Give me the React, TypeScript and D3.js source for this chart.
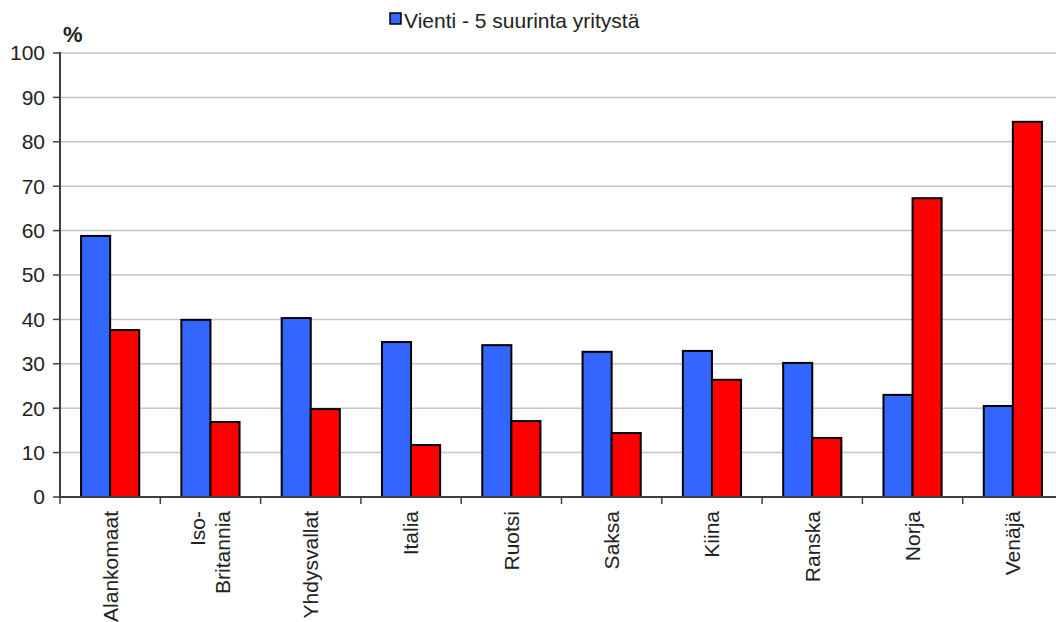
import React from "react";
import * as d3 from "d3";

const categories = ["Alankomaat", "Iso-|Britannia", "Yhdysvallat", "Italia", "Ruotsi", "Saksa", "Kiina", "Ranska", "Norja", "Venäjä"];
const seriesNames = ["Vienti - 5 suurinta yritystä", "Tuonti"];
const blueValues = [58.8, 39.9, 40.3, 34.9, 34.2, 32.7, 32.9, 30.2, 23.0, 20.5];
const redValues = [37.6, 16.9, 19.8, 11.7, 17.1, 14.4, 26.4, 13.3, 67.3, 84.5];
const yTicks = [0, 10, 20, 30, 40, 50, 60, 70, 80, 90, 100];
const colors = ["#3366ff", "#ff0000"];

const W = 1056;
const H = 622;
const FONT = "'Liberation Sans', Arial, sans-serif";

export default function App() {
  const x = d3.scaleBand<string>().domain(categories).range([60, 1063]).paddingInner(0).paddingOuter(0);
  const bw = x.bandwidth();
  const xs = d3.scaleBand<number>().domain([0, 1]).range([bw * 0.21, bw * 0.79]).padding(0);
  const y = d3.scaleLinear().domain([0, 100]).range([497, 53]);
  const series = [blueValues, redValues];

  return (
    <svg width={W} height={H} style={{ position: "absolute", left: 0, top: 0, background: "#fff" }} fontFamily={FONT}>
      <rect x={0} y={0} width={W} height={H} fill="#fff" />
      {/* gridlines */}
      {yTicks.filter((t) => t > 0).map((t) => (
        <line key={"g" + t} x1={60} x2={W} y1={y(t)} y2={y(t)} stroke="#c4c4c4" strokeWidth={1.5} />
      ))}
      {/* bars */}
      {categories.map((c, i) => (
        <g key={c} transform={`translate(${x(c)},0)`}>
          {series.map((vals, si) => (
            <rect
              key={si}
              x={xs(si)}
              y={y(vals[i])}
              width={xs.bandwidth()}
              height={y(0) - y(vals[i])}
              fill={colors[si]}
              stroke="#000"
              strokeWidth={2}
            />
          ))}
        </g>
      ))}
      {/* y axis */}
      <line x1={60} x2={60} y1={y(100) - 1} y2={y(0)} stroke="#404040" strokeWidth={2} />
      {yTicks.map((t) => (
        <g key={"t" + t}>
          <line x1={53} x2={60} y1={y(t)} y2={y(t)} stroke="#404040" strokeWidth={1.5} />
          <text x={45} y={y(t)} dy="0.35em" textAnchor="end" fontSize={21} fill="#222">
            {t}
          </text>
        </g>
      ))}
      {/* x axis */}
      <line x1={59} x2={W} y1={y(0)} y2={y(0)} stroke="#404040" strokeWidth={2} />
      {categories.map((c) => (
        <line key={"xt" + c} x1={x(c)!} x2={x(c)!} y1={y(0)} y2={y(0) + 7} stroke="#404040" strokeWidth={1.5} />
      ))}
      {categories.map((c) => {
        const lines = c.split("|");
        const cx = x(c)! + bw / 2;
        const spacing = 25;
        return lines.map((ln, li) => {
          const lx = cx + (li - (lines.length - 1) / 2) * spacing;
          return (
            <text
              key={c + li}
              transform={`translate(${lx},511) rotate(-90)`}
              dy="0.35em"
              textAnchor="end"
              fontSize={21}
              fill="#222"
            >
              {ln}
            </text>
          );
        });
      })}
      {/* unit label */}
      <text x={63} y={42} fontSize={22} fontWeight="bold" fill="#222">%</text>
      {/* legend */}
      <rect x={390} y={13} width={11} height={11} fill={colors[0]} stroke="#000" strokeWidth={1.5} />
      <text x={404} y={28} fontSize={21} fill="#222">{seriesNames[0]}</text>
    </svg>
  );
}
